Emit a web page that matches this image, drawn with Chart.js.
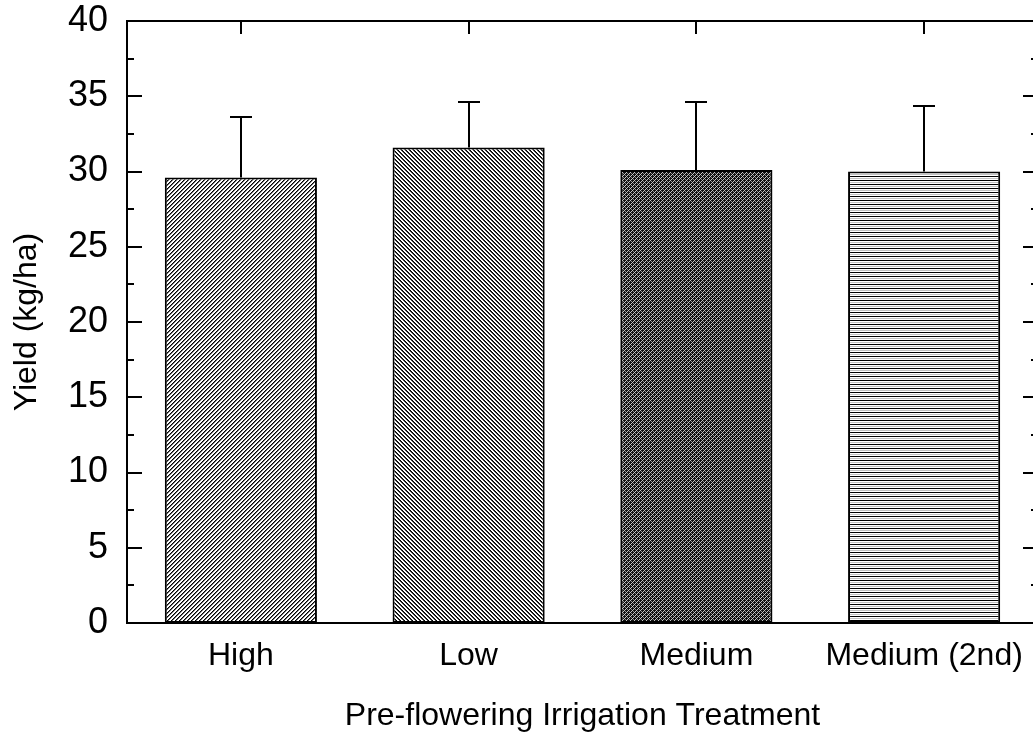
<!DOCTYPE html>
<html lang="en">
<head>
    <meta charset="UTF-8">
    <title>Yield by Pre-flowering Irrigation Treatment</title>
    <script src="https://cdn.jsdelivr.net/npm/chart.js"></script>
    <style>
        html, body {
            margin: 0;
            padding: 0;
            background: #ffffff;
            overflow: hidden;
        }
        canvas {
            display: block;
        }
    </style>
</head>
<body>
    <canvas id="yieldChart" width="1042" height="735" style="width:1042px;height:735px"></canvas>

    <script>
        // --- Data ---
        const categories = ['High', 'Low', 'Medium', 'Medium (2nd)'];
        const yieldMeans = [29.6, 31.6, 30.1, 30.0];
        const yieldErrors = [4.0, 3.0, 4.55, 4.35];   // upper error bar only

        const FONT = "'Liberation Sans', Arial, Helvetica, sans-serif";

        // --- Fill patterns (small tiles repeated) ---
        function makeTile(size, paint) {
            const c = document.createElement('canvas');
            c.width = size;
            c.height = size;
            const g = c.getContext('2d');
            g.fillStyle = '#ffffff';
            g.fillRect(0, 0, size, size);
            paint(g, size);
            return g.createPattern(c, 'repeat');
        }

        // High: "/" hatch
        const hatchUp = makeTile(4, (g, s) => {
            for (let x = 0; x < s; x++) {
                g.fillStyle = '#000000';
                g.fillRect(x, (s - 1 - x + s) % s, 1, 1);
                g.fillStyle = '#6e6e6e';
                g.fillRect(x, (s - x) % s, 1, 1);
            }
        });
        // Low: "\" hatch, a bit heavier
        const hatchDown = makeTile(4, (g, s) => {
            for (let x = 0; x < s; x++) {
                g.fillStyle = '#000000';
                g.fillRect(x, x % s, 1, 1);
                g.fillStyle = '#3c3c3c';
                g.fillRect(x, (x + 1) % s, 1, 1);
            }
        });
        // Medium: dense cross hatch
        const crossHatch = makeTile(4, (g, s) => {
            g.fillStyle = '#111111';
            g.fillRect(0, 0, s, s);
            for (let x = 0; x < s; x++) {
                for (let y = 0; y < s; y++) {
                    if ((x + y) % 4 === 2) { g.fillStyle = '#c8c8c8'; g.fillRect(x, y, 1, 1); }
                    else if ((x - y + 4) % 4 === 2) { g.fillStyle = '#8c8c8c'; g.fillRect(x, y, 1, 1); }
                }
            }
        });
        // Medium (2nd): horizontal lines
        const horizLines = makeTile(4, (g, s) => {
            g.fillStyle = '#000000';
            g.fillRect(0, 0, s, 1);
            g.fillStyle = '#c0c0c0';
            g.fillRect(0, 2, s, 1);
        });

        // --- Frame, inward tick marks and error bars ---
        const framePlugin = {
            id: 'frameTicks',
            afterDraw(chart) {
                const { ctx, chartArea: a, scales } = chart;
                const y = scales.y;
                ctx.save();
                ctx.strokeStyle = '#000';
                ctx.lineWidth = 2;
                ctx.strokeRect(a.left, a.top, a.right - a.left, a.bottom - a.top);

                ctx.beginPath();
                for (let v = 0; v <= 40; v += 2.5) {
                    const py = Math.round(y.getPixelForValue(v));
                    const len = v % 5 === 0 ? 15 : 7;
                    ctx.moveTo(a.left, py);
                    ctx.lineTo(a.left + len, py);
                    ctx.moveTo(a.right, py);
                    ctx.lineTo(a.right - len, py);
                }
                const meta = chart.getDatasetMeta(0);
                meta.data.forEach(bar => {
                    const px = Math.round(bar.x);
                    ctx.moveTo(px, a.top);
                    ctx.lineTo(px, a.top + 13);
                });
                ctx.stroke();
                ctx.restore();
            },
            afterDatasetsDraw(chart) {
                const { ctx, scales } = chart;
                const meta = chart.getDatasetMeta(0);
                ctx.save();
                ctx.strokeStyle = '#000';
                ctx.lineWidth = 2;
                ctx.beginPath();
                meta.data.forEach((bar, i) => {
                    const px = Math.round(bar.x);
                    const yTop = Math.round(scales.y.getPixelForValue(yieldMeans[i] + yieldErrors[i]));
                    const yBar = scales.y.getPixelForValue(yieldMeans[i]);
                    ctx.moveTo(px, yBar);
                    ctx.lineTo(px, yTop);
                    ctx.moveTo(px - 11, yTop);
                    ctx.lineTo(px + 11, yTop);
                });
                ctx.stroke();
                ctx.restore();
            }
        };

        const ctx = document.getElementById('yieldChart').getContext('2d');
        new Chart(ctx, {
            type: 'bar',
            data: {
                labels: categories,
                datasets: [{
                    data: yieldMeans,
                    backgroundColor: [hatchUp, hatchDown, crossHatch, horizLines],
                    borderColor: '#000',
                    borderWidth: 2,
                    borderSkipped: false,
                    categoryPercentage: 1.0,
                    barPercentage: 0.668
                }]
            },
            options: {
                responsive: false,
                animation: false,
                layout: { padding: { top: 21, right: 4, left: 0, bottom: 0 } },
                plugins: {
                    legend: { display: false },
                    tooltip: { enabled: false }
                },
                scales: {
                    x: {
                        grid: { display: false, drawTicks: false },
                        border: { display: false },
                        ticks: {
                            color: '#000',
                            padding: 14,
                            maxRotation: 0,
                            font: { family: FONT, size: 32 }
                        },
                        title: {
                            display: true,
                            text: 'Pre-flowering Irrigation Treatment',
                            color: '#000',
                            padding: { top: 0, bottom: 0 },
                            font: { family: FONT, size: 32 }
                        },
                        afterFit(scale) {
                            scale.height = 112;
                            scale.paddingLeft = 0;
                            scale.paddingRight = 0;
                        }
                    },
                    y: {
                        min: 0,
                        max: 40,
                        grid: { display: false, drawTicks: false },
                        border: { display: false },
                        ticks: {
                            stepSize: 5,
                            color: '#000',
                            padding: 19,
                            font: { family: FONT, size: 36 }
                        },
                        title: {
                            display: true,
                            text: 'Yield (kg/ha)',
                            color: '#000',
                            padding: { top: 8, bottom: 0 },
                            font: { family: FONT, size: 32 }
                        },
                        afterFit(scale) {
                            scale.width = 127;
                            scale.paddingTop = 0;
                            scale.paddingBottom = 0;
                        }
                    }
                }
            },
            plugins: [framePlugin]
        });
    </script>
</body>
</html>
